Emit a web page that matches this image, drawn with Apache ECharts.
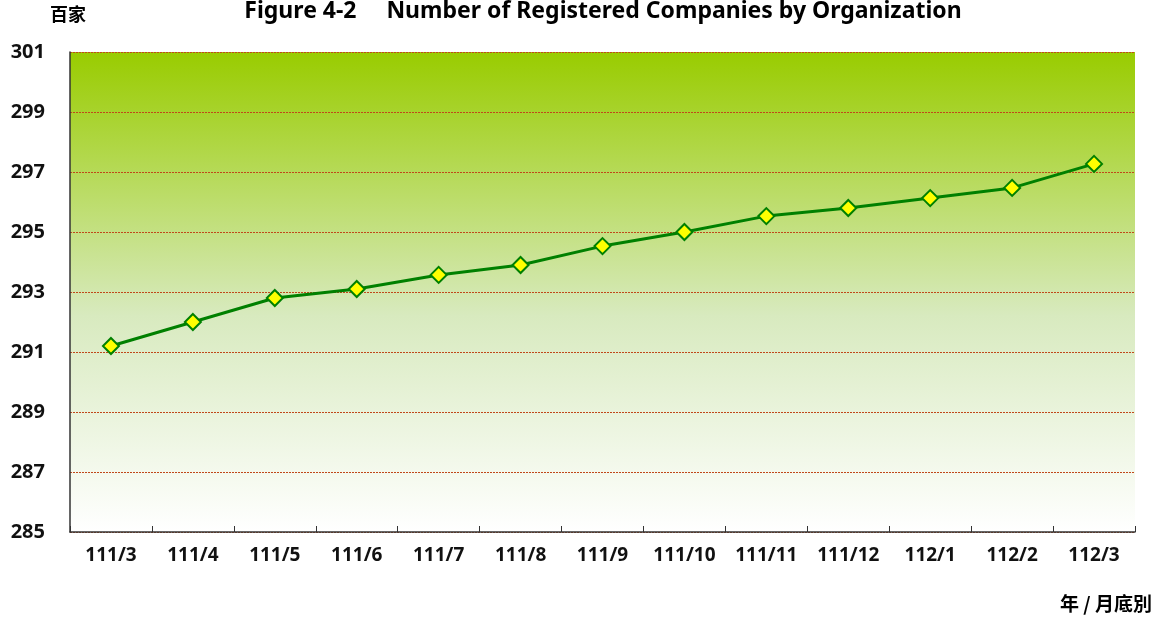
<!DOCTYPE html>
<html>
<head>
<meta charset="utf-8">
<script src="https://cdn.jsdelivr.net/npm/echarts@6/dist/echarts.min.js"></script>
<style>
  html, body { margin: 0; padding: 0; background: #fff; }
  #main { width: 1162px; height: 623px; }
</style>
</head>
<body>
<div id="main"></div>
<script>
var months = ['111/3', '111/4', '111/5', '111/6', '111/7', '111/8', '111/9',
  '111/10', '111/11', '111/12', '112/1', '112/2', '112/3'];
var companies = [291.2, 292.0, 292.8, 293.1, 293.57, 293.9, 294.53,
  295.0, 295.53, 295.8, 296.13, 296.47, 297.27];
var yMin = 285, yMax = 301, yStep = 2;

var font = '"Noto Sans", "Noto Sans CJK TC", sans-serif';
var chart = echarts.init(document.getElementById('main'));
var option = {
  animation: false,
  title: {
    text: 'Figure 4-2     Number of Registered Companies by Organization',
    left: 598, textAlign: 'center', top: -5,
    textStyle: { fontFamily: font, fontSize: 23, fontWeight: 'bold', color: '#000' }
  },
  graphic: [
    { type: 'text', left: 50, top: 5,
      style: { text: '百家', font: 'bold 18px "Noto Sans CJK TC", sans-serif', fill: '#000' } },
    { type: 'text', right: 10, top: 594,
      style: { text: '年 / 月底別', font: 'bold 19px "Noto Sans CJK TC", sans-serif', fill: '#000' } }
  ],
  grid: {
    left: 70, right: 27, top: 52, bottom: 91,
    show: true, borderWidth: 0,
    backgroundColor: new echarts.graphic.LinearGradient(0, 0, 0, 1, [
      { offset: 0, color: '#99cc00' },
      { offset: 0.55, color: '#d8eabf' },
      { offset: 1, color: '#ffffff' }
    ])
  },
  xAxis: {
    type: 'category', data: months, boundaryGap: true,
    axisLine: { lineStyle: { color: '#333', width: 1.5 } },
    axisTick: { show: true, inside: true, length: 6, interval: 0, lineStyle: { color: '#333' } },
    axisLabel: { interval: 0, fontFamily: font, fontSize: 19, fontWeight: 'bold', color: '#111', margin: 14 }
  },
  yAxis: {
    type: 'value', min: yMin, max: yMax, interval: yStep,
    axisLine: { show: true, lineStyle: { color: '#333', width: 1.5 } },
    axisTick: { show: false },
    axisLabel: { fontFamily: font, fontSize: 20, fontWeight: 'bold', color: '#111', margin: 25 },
    splitLine: { lineStyle: { color: '#c0481a', type: [2, 1], width: 1 } }
  },
  series: [{
    type: 'line', data: companies,
    symbol: 'diamond', symbolSize: 16,
    lineStyle: { color: '#008000', width: 3 },
    itemStyle: { color: '#ffff00', borderColor: '#008000', borderWidth: 2 }
  }]
};
chart.setOption(option);
</script>
</body>
</html>
